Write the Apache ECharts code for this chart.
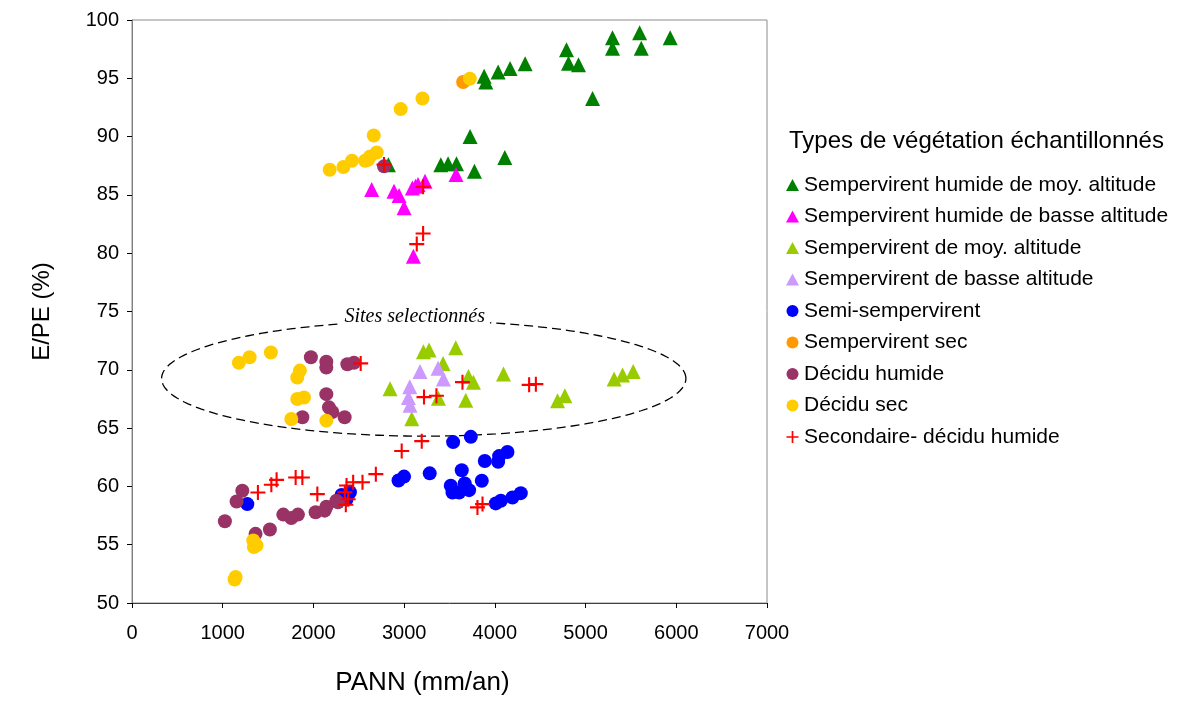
<!DOCTYPE html>
<html>
<head>
<meta charset="utf-8">
<script src="https://cdn.jsdelivr.net/npm/echarts@6/dist/echarts.min.js"></script>
<style>html,body{margin:0;padding:0;background:#fff}#c{width:1181px;height:701px}</style>
</head>
<body>
<div id="c"></div>
<script>
var xTicks = [0, 1000, 2000, 3000, 4000, 5000, 6000, 7000];
var yTicks = [50, 55, 60, 65, 70, 75, 80, 85, 90, 95, 100];

var seriesNames = [
  "Sempervirent humide de moy. altitude",
  "Sempervirent humide de basse altitude",
  "Sempervirent de moy. altitude",
  "Sempervirent de basse altitude",
  "Semi-sempervirent",
  "Sempervirent sec",
  "Décidu humide",
  "Décidu sec",
  "Secondaire- décidu humide"
];

var shma = [[4790,97.44],[4812,96.3],[4922,96.17],[5297,98.47],[5297,97.58],[5596,98.9],[5614,97.58],[5933,98.47],[5077,93.27],[4334,96.25],[4168,95.83],[4036,95.54],[3882,95.17],[3900,94.68],[3727,90.0],[4110,88.21],[3775,87.02],[3404,87.59],[3484,87.67],[3577,87.67],[2826,87.59]];
var shba = [[2642,85.46],[2888,85.32],[2944,84.95],[2999,83.9],[3091,85.6],[3125,85.75],[3153,85.89],[3230,86.17],[3572,86.74],[3102,79.73]];
var sma = [[3213,71.55],[3275,71.69],[3569,71.89],[3429,70.55],[2845,68.37],[3709,69.42],[3764,68.94],[4095,69.64],[3378,67.57],[3679,67.38],[3084,65.81],[4691,67.34],[4772,67.77],[5315,69.22],[5408,69.56],[5525,69.85]];
var sba = [[3175,69.85],[3374,70.13],[3433,69.22],[3062,68.54],[3047,67.63],[3065,66.95]];
var semi = [[1271,58.48],[2310,59.26],[2365,58.9],[2402,59.5],[2938,60.5],[2999,60.84],[3540,63.8],[3735,64.25],[3889,62.18],[4047,62.6],[4139,62.95],[4036,62.12],[3282,61.12],[3635,61.38],[3856,60.48],[3514,60.05],[3533,59.48],[3606,59.48],[3668,60.25],[3716,59.68],[4010,58.54],[4066,58.77],[4194,59.05],[4286,59.42]];
var sec = [[3650,94.68]];
var dhum = [[2778,87.45],[1972,71.07],[2142,70.7],[2142,70.19],[2374,70.47],[2447,70.61],[2142,67.91],[2171,66.78],[2208,66.38],[1878,65.93],[2344,65.93],[1216,59.63],[1153,58.71],[1024,57.01],[1362,55.93],[1520,56.3],[1668,57.58],[1756,57.29],[1829,57.58],[2024,57.78],[2124,57.92],[2143,58.26],[2253,58.77],[2271,58.63]];
var dsec = [[2179,87.16],[2330,87.39],[2425,87.93],[2569,87.93],[2600,88.0],[2624,88.3],[2698,88.64],[2665,90.09],[2962,92.36],[3202,93.27],[3724,94.97],[1178,70.61],[1296,71.07],[1531,71.49],[1851,69.93],[1822,69.34],[1896,67.63],[1822,67.49],[1756,65.78],[2142,65.64],[1337,55.37],[1344,54.8],[1373,54.94],[1142,52.24],[1131,52.01]];
var secd = [[2778,87.6],[3209,85.69],[3139,80.78],[3209,81.69],[2521,70.55],[3219,67.66],[3356,67.77],[3643,68.94],[4378,68.71],[4452,68.77],[1388,59.48],[1536,60.14],[1594,60.56],[1804,60.76],[1878,60.76],[2043,59.34],[2365,60.08],[2438,60.35],[2541,60.35],[2688,61.05],[2346,59.5],[2383,58.9],[2357,58.43],[3194,63.88],[2973,63.03],[3808,58.2],[3864,58.48]];

var ellipseCenter = [3216, 69.25];
var ellipseRadii = [2890, 4.94];

var seriesData = [shma, shba, sma, sba, semi, sec, dhum, dsec, secd];
var colors = ['#008000','#FF00FF','#99CC00','#CC99FF','#0000FF','#FF9900','#993366','#FFCC00','#FF0000'];
var plusPath = 'path://M4.3,0 L5.7,0 L5.7,4.3 L10,4.3 L10,5.7 L5.7,5.7 L5.7,10 L4.3,10 L4.3,5.7 L0,5.7 L0,4.3 L4.3,4.3 Z';
var symbols = ['triangle','triangle','triangle','triangle','circle','circle','circle','circle',plusPath];
var sizes = [15,15,15,15,14,14,14,14,15];

var FONT = '"Liberation Sans", Arial, sans-serif';

var chart = echarts.init(document.getElementById('c'));
var series = seriesNames.map(function(n, i){
  return {
    name: n, type: 'scatter', data: seriesData[i],
    symbol: symbols[i], symbolSize: sizes[i],
    itemStyle: {color: colors[i], opacity: 1},
    emphasis: {disabled: true},
    z: 2 + i
  };
});

chart.setOption({
  animation: false,
  backgroundColor: '#fff',
  title: {
    text: 'Types de végétation échantillonnés',
    left: 784, top: 124,
    textStyle: {fontFamily: FONT, fontSize: 24, fontWeight: 'normal', color: '#000'}
  },
  legend: {
    orient: 'vertical', left: 781, top: 169,
    itemWidth: 13, itemHeight: 12, itemGap: 9.5,
    textStyle: {fontFamily: FONT, fontSize: 21, color: '#000', lineHeight: 22},
    data: seriesNames
  },
  grid: {left: 132, right: 414, top: 20, bottom: 94, show: true, borderColor: '#8c8c8c', borderWidth: 1, backgroundColor: '#fff'},
  xAxis: {
    type: 'value', min: xTicks[0], max: xTicks[xTicks.length-1], interval: 1000,
    name: 'PANN (mm/an)', nameLocation: 'middle', nameGap: 67,
    nameTextStyle: {fontFamily: FONT, fontSize: 26, color: '#000', padding: [0, 54, 0, 0]},
    axisLine: {show: true, lineStyle: {color: '#404040', width: 1}},
    axisTick: {show: true, inside: false, length: 5, lineStyle: {color: '#000'}},
    axisLabel: {fontFamily: FONT, fontSize: 20, color: '#000', margin: 20, formatter: function(v){ return String(v); }},
    splitLine: {show: false}
  },
  yAxis: {
    type: 'value', min: yTicks[0], max: yTicks[yTicks.length-1], interval: 5,
    name: 'E/PE (%)', nameLocation: 'middle', nameGap: 78,
    nameTextStyle: {fontFamily: FONT, fontSize: 24, color: '#000'},
    axisLine: {show: true, lineStyle: {color: '#808080', width: 1}},
    axisTick: {show: true, inside: false, length: 5, lineStyle: {color: '#000'}},
    axisLabel: {fontFamily: FONT, fontSize: 20, color: '#000', margin: 13, formatter: function(v){ return String(v); }},
    splitLine: {show: false}
  },
  series: series
});

function drawEllipse(){
  var pts = [];
  var N = 180;
  for (var k = 0; k < N; k++) {
    var t = 2 * Math.PI * k / N;
    var v = [ellipseCenter[0] + ellipseRadii[0] * Math.cos(t), ellipseCenter[1] + ellipseRadii[1] * Math.sin(t)];
    pts.push(chart.convertToPixel({gridIndex: 0}, v));
  }
  var top = chart.convertToPixel({gridIndex: 0}, [ellipseCenter[0] - 100, ellipseCenter[1] + ellipseRadii[1]]);
  chart.setOption({
    graphic: [
      {type: 'polygon', shape: {points: pts}, silent: true, z: 1,
       style: {fill: 'none', stroke: '#000', lineWidth: 1.3, lineDash: [9, 5]}},
      {type: 'text', x: top[0], y: top[1] - 4, silent: true, z: 20,
       style: {text: 'Sites selectionnés', font: 'italic 20px "Liberation Serif", "Times New Roman", serif',
               fill: '#000', align: 'center', verticalAlign: 'middle',
               backgroundColor: '#fff', padding: [1, 5]}}
    ]
  });
}
drawEllipse();
</script>
</body>
</html>
